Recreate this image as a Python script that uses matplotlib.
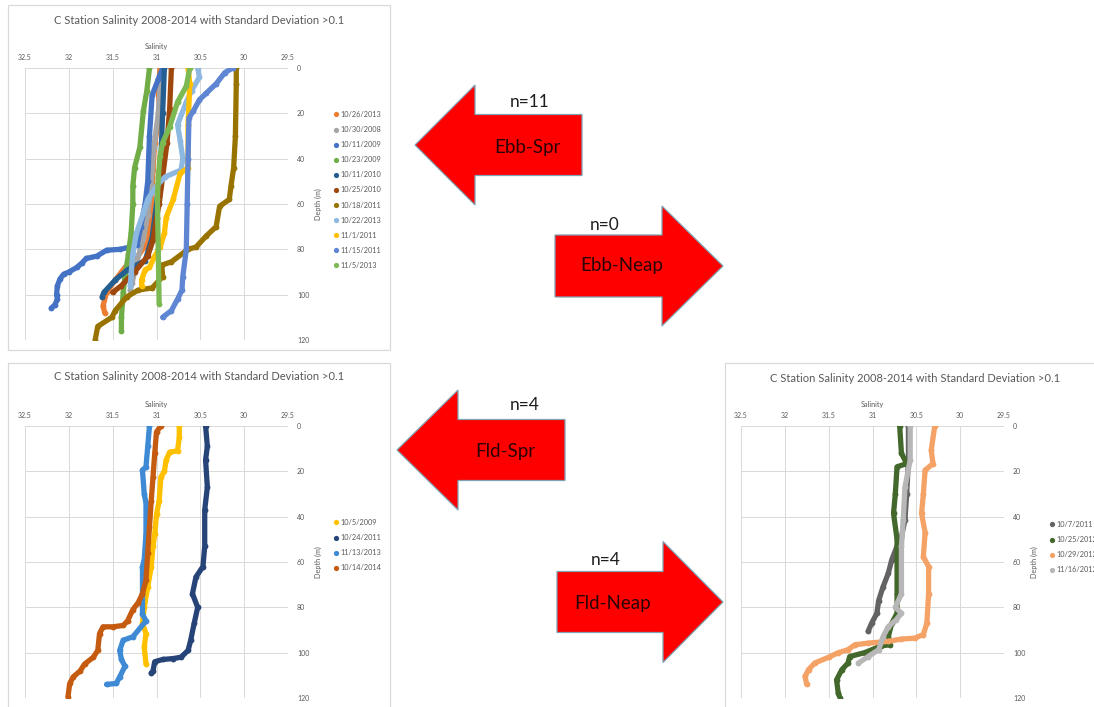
import matplotlib
matplotlib.use('Agg')
import numpy as np
from matplotlib import pyplot as plt
from matplotlib.patches import Polygon, Rectangle
from matplotlib.ticker import FuncFormatter

plt.rcParams['font.family'] = ['Lato', 'DejaVu Sans']

W, H = 1094, 707

# ---------------------------------------------------------------------------
# Ebb tide, spring: CTD casts with salinity std. dev. > 0.1
# ---------------------------------------------------------------------------
ebb_spr_dates = ['10/26/2013', '10/30/2008', '10/11/2009', '10/23/2009', '10/11/2010',
                 '10/25/2010', '10/18/2011', '10/22/2013', '11/1/2011', '11/15/2011',
                 '11/5/2013']
ebb_spr_sal = [
    [30.96, 30.97, 30.98, 30.96, 31.02, 31.04, 31.06, 31.08, 31.10, 31.25, 31.36, 31.47, 31.57, 31.61, 31.59],
    [30.95, 30.98, 31.03, 31.05, 31.07, 31.10, 31.15, 31.22, 31.28, 31.30],
    [30.93, 30.98, 31.05, 31.08, 31.10, 31.13, 31.18, 31.22, 31.30, 31.42, 31.57, 31.68, 31.80, 31.85,
     31.91, 32.00, 32.06, 32.10, 32.13, 32.14, 32.13, 32.16, 32.20],
    [31.08, 31.11, 31.15, 31.19, 31.25, 31.27, 31.27, 31.29, 31.32, 31.36, 31.38, 31.40, 31.40],
    [30.91, 30.93, 30.95, 31.00, 31.05, 31.13, 31.33, 31.47, 31.60, 31.62],
    [30.83, 30.85, 30.88, 30.93, 30.97, 31.00, 31.04, 31.10, 31.25, 31.40, 31.50],
    [30.09, 30.09, 30.10, 30.12, 30.15, 30.17, 30.28, 30.32, 30.43, 30.55, 30.64, 30.83, 30.94, 30.93,
     31.05, 31.21, 31.34, 31.47, 31.51, 31.67, 31.70],
    [30.53, 30.51, 30.60, 30.66, 30.76, 30.73, 30.70, 30.72, 30.90, 31.00, 31.10, 31.15, 31.23, 31.27,
     31.29, 31.30],
    [30.64, 30.62, 30.64, 30.64, 30.73, 30.81, 30.89, 30.91, 30.96, 31.02, 31.08, 31.13, 31.17, 31.17],
    [30.13, 30.22, 30.32, 30.43, 30.51, 30.58, 30.63, 30.64, 30.65, 30.66, 30.70, 30.71, 30.76, 30.83, 30.93],
    [30.62, 30.66, 30.76, 30.85, 30.93, 30.96, 30.98, 30.99, 30.98, 30.97],
]
ebb_spr_depth = [
    [0, 5, 11, 20, 33, 45, 60, 73, 77, 85, 88, 93.5, 99, 105, 108],
    [3, 20, 35, 45, 55, 65, 75, 85, 95, 98],
    [0, 5, 12, 30, 50, 60, 70, 78, 79, 80, 80.4, 83, 84, 86, 88, 90, 91, 93, 96, 100, 102, 104.5, 106],
    [0, 10, 19, 35, 44, 52, 60, 73, 82, 92, 99, 110, 116],
    [0, 20, 40, 60, 75, 85, 89, 93.5, 99, 101],
    [0, 18, 33, 48, 60, 66, 76, 83, 90, 96, 99],
    [0, 7, 30, 44, 52, 58, 61, 70, 74, 79, 80, 85.5, 87, 92, 97, 98, 101, 107, 110, 114, 120],
    [0, 4, 10, 15, 25, 32, 40, 45, 48, 52, 58, 64, 73, 82, 91, 96],
    [0, 7, 25, 44, 46.5, 58, 66, 73, 79, 83, 88, 89, 93.5, 96],
    [0, 2, 7, 11, 14, 19, 22, 40, 60, 80, 92, 98, 102, 107, 110],
    [0, 8, 15, 26, 33, 39, 48, 58, 80, 104],
]

# Ebb tide, neap: no casts passed the filter
ebb_neap_dates = []

# ---------------------------------------------------------------------------
# Flood tide, spring
# ---------------------------------------------------------------------------
fld_spr_dates = ['10/5/2009', '10/24/2011', '11/13/2013', '10/14/2014']
fld_spr_sal = [
    [30.74, 30.74, 30.76, 30.85, 30.89, 30.91, 30.95, 30.97, 31.00, 31.02, 31.04, 31.06, 31.10, 31.14,
     31.16, 31.12, 31.14, 31.12],
    [30.44, 30.42, 30.44, 30.42, 30.45, 30.45, 30.47, 30.55, 30.59, 30.53, 30.57, 30.61, 30.64, 30.72,
     30.81, 30.93, 31.02, 31.04, 31.06],
    [31.08, 31.10, 31.12, 31.16, 31.14, 31.12, 31.12, 31.14, 31.16, 31.16, 31.16, 31.12, 31.27, 31.38,
     31.42, 31.40, 31.36, 31.42, 31.46, 31.57],
    [30.95, 31.00, 31.02, 31.04, 31.06, 31.08, 31.10, 31.12, 31.16, 31.21, 31.27, 31.33, 31.38, 31.50,
     31.61, 31.65, 31.67, 31.72, 31.82, 31.87, 31.95, 31.99, 32.01],
]
fld_spr_depth = [
    [0, 5, 11, 11.5, 15, 20, 22.5, 33, 39, 47.5, 53, 62, 71, 80, 87, 91.6, 97.5, 105],
    [0, 9, 15, 27, 37, 53, 62, 66.6, 74, 80, 87, 94.5, 99, 102, 102.6, 103, 104, 108, 109],
    [0, 9, 18, 19.5, 30, 34, 47.5, 59, 62, 74, 83, 86, 93, 94.5, 99, 103, 106, 110.7, 113.6, 114],
    [0, 2.6, 12, 22.5, 33, 44.5, 56, 68, 74, 78, 81, 86, 88, 88.6, 88.6, 91.6, 99, 102, 105, 108,
     110.7, 113.6, 119.5],
]

# ---------------------------------------------------------------------------
# Flood tide, neap
# ---------------------------------------------------------------------------
fld_neap_dates = ['10/7/2011', '10/25/2012', '10/29/2012', '11/16/2012']
fld_neap_sal = [
    [30.59, 30.59, 30.61, 30.63, 30.67, 30.72, 30.78, 30.82, 30.88, 30.93, 30.95, 31.01, 31.05],
    [30.69, 30.67, 30.61, 30.72, 30.74, 30.76, 30.72, 30.72, 30.72, 30.72, 30.78, 30.82, 30.80, 30.90,
     31.09, 31.26, 31.28, 31.35, 31.41, 31.39, 31.37],
    [30.29, 30.33, 30.31, 30.40, 30.42, 30.44, 30.40, 30.42, 30.36, 30.36, 30.38, 30.42, 30.52, 30.67,
     30.82, 31.05, 31.20, 31.28, 31.39, 31.50, 31.66, 31.73, 31.77, 31.75],
    [30.57, 30.57, 30.63, 30.65, 30.67, 30.67, 30.74, 30.67, 30.73, 30.82, 30.88, 30.93, 31.05, 31.16],
]
fld_neap_depth = [
    [0, 15, 30, 41.5, 49, 53, 59, 65, 71, 77, 82.6, 87, 90.6],
    [0, 12, 16.6, 18, 30, 38.6, 50, 59, 74, 82.6, 87, 93, 96.5, 97, 100, 101.7, 104.6, 107.5, 112, 118, 120],
    [0, 10.7, 16.6, 19.5, 30, 38.6, 47, 57.7, 62, 74, 87, 92, 93.6, 94, 95, 95.8, 96.5, 98.7, 100, 102,
     104.6, 107.5, 110.5, 114],
    [0, 15, 27, 41.5, 53, 74, 80, 82.6, 85.5, 88.5, 93, 98.7, 101.7, 104.6],
]

sal_ticks = [32.5, 32, 31.5, 31, 30.5, 30, 29.5]
depth_ticks = [0, 20, 40, 60, 80, 100, 120]
title_text = 'C Station Salinity 2008-2014 with Standard Deviation >0.1'

# series colours, same order as the dates above
ebb_spr_colors = ['#ED7D31', '#A5A5A5', '#4472C4', '#70AD47', '#255E91', '#9E480E',
                  '#997300', '#8DB8E2', '#FFC000', '#5F86D2', '#7DB953']
fld_spr_colors = ['#FFC000', '#264478', '#3E8AD4', '#C55A11']
fld_neap_colors = ['#636363', '#43682B', '#F5A266', '#B7B7B7']

GRID = '#D9D9D9'
TXT = '#595959'


def px_rect(l, t, r, b):
    # pixel box (top-left origin) -> figure fraction rect
    return [l / W, 1 - b / H, (r - l) / W, (b - t) / H]


def draw_panel(fig, box, dates, sal, depth, colors, leg_xy):
    ax = fig.add_axes(px_rect(*box))
    for d, s, z, c in zip(dates, sal, depth, colors):
        ax.plot(s, z, color=c, lw=3.8, marker='o', ms=4.2, mew=0,
                solid_joinstyle='round', solid_capstyle='round', label=d)

    ax.set_xlim(32.5, 29.5)
    ax.set_ylim(120, 0)
    ax.set_xticks(sal_ticks)
    ax.set_yticks(depth_ticks)
    ax.xaxis.set_major_formatter(FuncFormatter(lambda v, p: '%g' % v))
    ax.grid(True, color=GRID, lw=0.7)
    ax.set_axisbelow(True)
    for sp in ax.spines.values():
        sp.set_visible(False)

    ax.xaxis.tick_top()
    ax.yaxis.tick_right()
    ax.tick_params(axis='x', length=0, pad=5, labelsize=5, labelcolor=TXT)
    ax.tick_params(axis='y', length=0, pad=6.5, labelsize=5, labelcolor=TXT)
    ax.xaxis.set_label_position('top')
    ax.yaxis.set_label_position('right')
    ax.set_xlabel('Salinity', fontsize=5.2, color=TXT, labelpad=4)
    ax.set_ylabel('Depth (m)', fontsize=5.2, color=TXT, labelpad=4)

    ax.legend(loc='upper left', bbox_to_anchor=(leg_xy[0] / W, 1 - leg_xy[1] / H),
              bbox_transform=fig.transFigure, frameon=False, fontsize=5.3,
              handlelength=0, handletextpad=0.6, labelspacing=1.1, borderpad=0,
              borderaxespad=0, labelcolor=TXT, markerscale=0.9)
    return ax


def arrow_shape(tip_x, head_x, tail_x, cy, head_half, shaft_half):
    # block arrow outline; works for both directions
    return [(tip_x, cy), (head_x, cy - head_half), (head_x, cy - shaft_half),
            (tail_x, cy - shaft_half), (tail_x, cy + shaft_half), (head_x, cy + shaft_half),
            (head_x, cy + head_half)]


fig = plt.figure(figsize=(W / 100, H / 100), dpi=100)
fig.patch.set_facecolor('white')

# full-figure layer in pixel units for frames, titles and arrows
bg = fig.add_axes([0, 0, 1, 1])
bg.set_xlim(0, W)
bg.set_ylim(H, 0)
bg.axis('off')

frames = [(8, 5, 390, 350), (8, 363, 390, 712), (725, 363, 1100, 712)]
for l, t, r, b in frames:
    bg.add_patch(Rectangle((l, t), r - l, b - t, fill=False, ec=GRID, lw=0.9))

titles = [(199, 20), (199, 377), (915, 378)]
for x, y in titles:
    bg.text(x, y, title_text, ha='center', va='center', fontsize=8, color=TXT)

draw_panel(fig, (25, 68, 288, 340), ebb_spr_dates, ebb_spr_sal, ebb_spr_depth,
           ebb_spr_colors, (336, 111))
draw_panel(fig, (25, 426, 288, 698), fld_spr_dates, fld_spr_sal, fld_spr_depth,
           fld_spr_colors, (336, 519))
draw_panel(fig, (741, 426, 1004, 698), fld_neap_dates, fld_neap_sal, fld_neap_depth,
           fld_neap_colors, (1052, 521))

# tide-phase arrows, count of casts written above each one
arrows = [
    ('Ebb-Spr', ebb_spr_dates, arrow_shape(415, 475, 582, 145, 60, 30.5), (530, 102), (527, 147)),
    ('Ebb-Neap', ebb_neap_dates, arrow_shape(723, 662, 555, 266, 60, 31), (605, 225), (622, 265)),
    ('Fld-Spr', fld_spr_dates, arrow_shape(397, 458, 565, 450, 60, 30.5), (525, 405), (505, 451)),
    ('Fld-Neap', fld_neap_dates, arrow_shape(723, 663, 557, 602, 60.5, 30.5), (606, 560), (613, 604)),
]
for name, dates, shape, n_xy, lab_xy in arrows:
    bg.add_patch(Polygon(shape, closed=True, fc='#FF0000', ec='#7FA3B3', lw=0.9))
    bg.text(n_xy[0], n_xy[1], 'n=%d' % len(dates), ha='center', va='center',
            fontsize=12.5, color='#1E1E1E')
    bg.text(lab_xy[0], lab_xy[1], name, ha='center', va='center',
            fontsize=13.5, color='#2A0505')

plt.savefig('out.png', dpi=100)
